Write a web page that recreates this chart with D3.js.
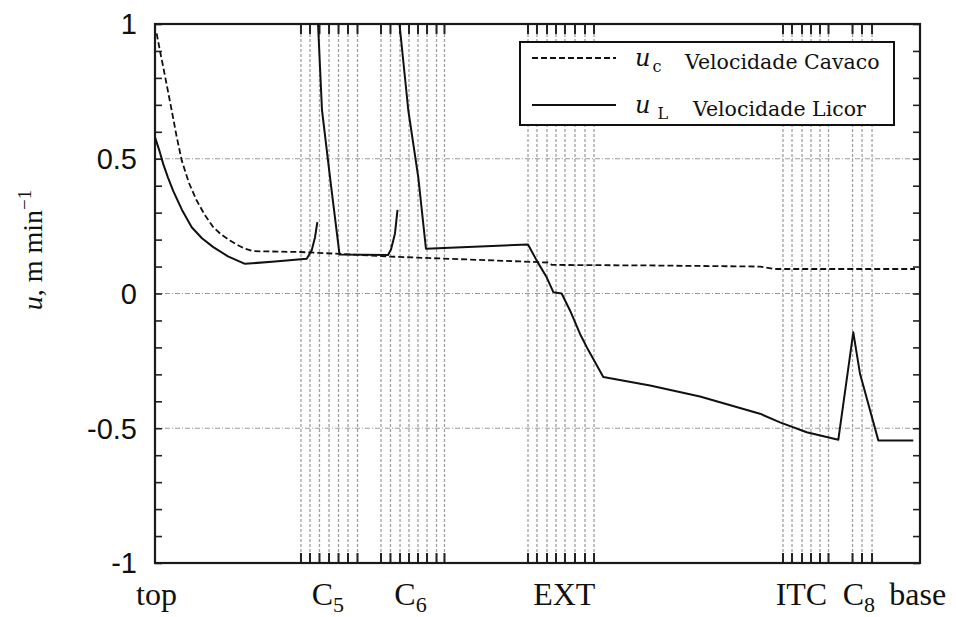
<!DOCTYPE html>
<html>
<head>
<meta charset="utf-8">
<script src="https://cdn.jsdelivr.net/npm/d3@7"></script>
<style>
  body { margin: 0; background: #fff; }
  svg { display: block; }
</style>
</head>
<body>
<svg id="chart" width="956" height="617"></svg>
<script>
// Axial position along the digester, in % of its height (0 = top, 100 = base)
const chipPos = [0.22, 0.65, 1.08, 1.63, 2.18, 2.81, 3.49, 4.44, 5.45, 6.54, 7.62, 8.69, 9.80,
                 10.78, 11.76, 12.81, 18.95, 24.18, 30.72, 37.25, 47.71, 51.37, 51.90, 64.71,
                 79.08, 81.05, 99.35];
// Chip velocity u_c, m/min
const chipVel = [0.965, 0.90, 0.84, 0.76, 0.68, 0.585, 0.494, 0.41, 0.345, 0.29, 0.246, 0.218, 0.197,
                 0.18, 0.166, 0.157, 0.154, 0.147, 0.137, 0.13, 0.119, 0.115, 0.106, 0.104,
                 0.100, 0.091, 0.091];

// Liquor velocity u_L, m/min (null marks a break where the profile leaves the range)
const liqPos = [0.0, 0.52, 1.08, 1.70, 2.39, 3.53, 4.80, 6.14, 7.62, 9.54, 11.76, 15.69, 19.83,
                20.48, 20.92, 21.22, null,
                21.31, 21.83, 23.01, 24.12, 30.46, 30.85, 31.37, 31.70, null,
                31.96, 33.11, 34.42, 35.42, 48.76, 49.90, 51.20, 52.07, 53.16, 54.25, 55.56,
                56.64, 58.60, 64.71, 71.24, 79.08, 81.70, 85.19, 89.32, 91.28, 92.16, 94.55, 99.12];
const liqVel = [0.58, 0.535, 0.48, 0.43, 0.38, 0.31, 0.246, 0.205, 0.172, 0.138, 0.110, 0.119, 0.129,
                0.16, 0.209, 0.265, null,
                1.0, 0.68, 0.40, 0.145, 0.143, 0.163, 0.223, 0.31, null,
                1.0, 0.68, 0.43, 0.166, 0.182, 0.122, 0.06, 0.005, 0.0, -0.063, -0.15,
                -0.21, -0.31, -0.341, -0.382, -0.446, -0.478, -0.515, -0.543, -0.144, -0.298, -0.545, -0.545];

// Extraction / circulation screen positions, %
const screenC5  = [19.08, 20.26, 21.50, 22.75, 23.99, 25.23, 26.47];
const screenC6  = [29.54, 30.78, 32.03, 33.20, 34.38, 35.56, 36.80, 37.84];
const screenEXT = [48.76, 49.93, 51.24, 52.42, 53.59, 54.90, 56.21, 57.39];
const screenITC = [82.09, 83.27, 84.58, 85.75, 86.93, 88.04];
const screenC8  = [91.18, 92.42, 93.73];

// Zone labels along the x axis: [main text, subscript], position %
const zoneText = [["top", ""], ["C", "5"], ["C", "6"], ["EXT", ""], ["ITC", ""], ["C", "8"], ["base", ""]];
const zonePos  = [0.2, 22.6, 33.4, 53.5, 84.5, 92.0, 99.7];

const yTickVals  = [-1, -0.5, 0, 0.5, 1];
const yTickText  = ["-1", "-0.5", "0", "0.5", "1"];
const hGridVals  = [-0.5, 0, 0.5];

const svg = d3.select("#chart");
const W = 956, H = 617;
const m = { left: 155, right: 36, top: 24, bottom: 54 };
const x = d3.scaleLinear().domain([0, 100]).range([m.left, W - m.right]);
const y = d3.scaleLinear().domain([-1, 1]).range([H - m.bottom, m.top]);

const screens = [].concat(screenC5, screenC6, screenEXT, screenITC, screenC8);

svg.append("clipPath").attr("id", "plotClip")
  .append("rect")
  .attr("x", x(0)).attr("y", y(1))
  .attr("width", x(100) - x(0)).attr("height", y(-1) - y(1));

// grid: horizontal
svg.append("g").selectAll("line").data(hGridVals).join("line")
  .attr("x1", x(0)).attr("x2", x(100))
  .attr("y1", d => y(d)).attr("y2", d => y(d))
  .attr("stroke", "#9a9a9a").attr("stroke-width", 1.2)
  .attr("stroke-dasharray", "5,2,1,2");

// grid: vertical screen lines
svg.append("g").selectAll("line").data(screens).join("line")
  .attr("x1", d => x(d)).attr("x2", d => x(d))
  .attr("y1", y(1)).attr("y2", y(-1))
  .attr("stroke", "#a0a0a0").attr("stroke-width", 1.3)
  .attr("stroke-dasharray", "3,2");

// screen tick marks on top and bottom edges
const tickG = svg.append("g").attr("stroke", "#222").attr("stroke-width", 2);
tickG.selectAll("line.tt").data(screens).join("line").attr("class", "tt")
  .attr("x1", d => x(d)).attr("x2", d => x(d))
  .attr("y1", y(1)).attr("y2", y(1) + 10);
tickG.selectAll("line.tb").data(screens).join("line").attr("class", "tb")
  .attr("x1", d => x(d)).attr("x2", d => x(d))
  .attr("y1", y(-1)).attr("y2", y(-1) - 10);

// y axes (left and right) with inward minor ticks every 0.1
const minor = d3.range(-10, 11).map(i => i / 10);
svg.append("g").attr("transform", `translate(${x(0)},0)`)
  .call(d3.axisRight(y).tickValues(minor).tickSize(7).tickFormat(""))
  .call(g => g.select(".domain").remove())
  .call(g => g.selectAll("line").attr("stroke", "#222").attr("stroke-width", 1.6));
svg.append("g").attr("transform", `translate(${x(100)},0)`)
  .call(d3.axisLeft(y).tickValues(minor).tickSize(7).tickFormat(""))
  .call(g => g.select(".domain").remove())
  .call(g => g.selectAll("line").attr("stroke", "#222").attr("stroke-width", 1.6));

// y tick labels
svg.append("g").selectAll("text").data(yTickVals).join("text")
  .attr("x", x(0) - 18).attr("y", d => y(d))
  .attr("dy", "0.36em")
  .attr("text-anchor", "end")
  .attr("font-family", "'Liberation Sans', Arial, sans-serif")
  .attr("font-size", 29)
  .attr("fill", "#111")
  .text((d, i) => yTickText[i]);

// frame
svg.append("rect")
  .attr("x", x(0)).attr("y", y(1))
  .attr("width", x(100) - x(0)).attr("height", y(-1) - y(1))
  .attr("fill", "none").attr("stroke", "#1a1a1a").attr("stroke-width", 2.2);

// curves
const chipData = chipPos.map((p, i) => [p, chipVel[i]]);
const liqData = liqPos.map((p, i) => [p, liqVel[i]]);
const line = d3.line()
  .defined(d => d[0] !== null && d[1] !== null)
  .x(d => x(d[0])).y(d => y(d[1]))
  .curve(d3.curveLinear);

const curves = svg.append("g").attr("clip-path", "url(#plotClip)");
curves.append("path").datum(chipData)
  .attr("d", line)
  .attr("fill", "none").attr("stroke", "#111").attr("stroke-width", 1.8)
  .attr("stroke-linejoin", "round")
  .attr("stroke-dasharray", "6,3");
curves.append("path").datum(liqData)
  .attr("d", line)
  .attr("fill", "none").attr("stroke", "#111").attr("stroke-width", 2)
  .attr("stroke-linejoin", "round");

// x zone labels
const zl = svg.append("g")
  .attr("font-family", "'Liberation Serif', 'Times New Roman', serif")
  .attr("fill", "#111");
zoneText.forEach((t, i) => {
  const tx = zl.append("text")
    .attr("x", x(zonePos[i])).attr("y", 605)
    .attr("text-anchor", "middle")
    .attr("font-size", 32);
  tx.append("tspan").text(t[0]);
  if (t[1]) tx.append("tspan").attr("font-size", 22).attr("dy", 7).text(t[1]);
});

// y axis title: u, m min^-1
const yt = svg.append("text")
  .attr("transform", `translate(42,250) rotate(-90)`)
  .attr("text-anchor", "middle")
  .attr("font-family", "'Liberation Serif', 'Times New Roman', serif")
  .attr("font-size", 28)
  .attr("fill", "#111");
yt.append("tspan").attr("font-style", "italic").text("u");
yt.append("tspan").text(", m min");
yt.append("tspan").attr("font-size", 19).attr("dy", -11).text("\u22121");

// legend
const lg = svg.append("g");
lg.append("rect").attr("x", 520).attr("y", 42).attr("width", 374).attr("height", 83)
  .attr("fill", "#fff").attr("stroke", "#111").attr("stroke-width", 2);
const legendRows = [
  { dash: "6,3", sub: "c", label: "Velocidade Cavaco", ly: 58, subDx: 2, tx: 685 },
  { dash: null,  sub: "L", label: "Velocidade Licor",  ly: 105, subDx: 7, tx: 693 }
];
legendRows.forEach(r => {
  lg.append("line").attr("x1", 532).attr("x2", 616).attr("y1", r.ly).attr("y2", r.ly)
    .attr("stroke", "#111").attr("stroke-width", r.dash ? 1.8 : 2)
    .attr("stroke-dasharray", r.dash);
  const t = lg.append("text").attr("x", 635).attr("y", r.ly + 8)
    .attr("font-family", "'DejaVu Serif', serif").attr("fill", "#111");
  t.append("tspan").attr("font-style", "italic").attr("font-size", 24).text("u");
  t.append("tspan").attr("font-size", 16).attr("dx", r.subDx).attr("dy", 6).text(r.sub);
  lg.append("text").attr("x", r.tx).attr("y", r.ly + 11)
    .attr("font-family", "'DejaVu Serif', serif").attr("font-size", 20.5)
    .attr("fill", "#111").text(r.label);
});
</script>
</body>
</html>
